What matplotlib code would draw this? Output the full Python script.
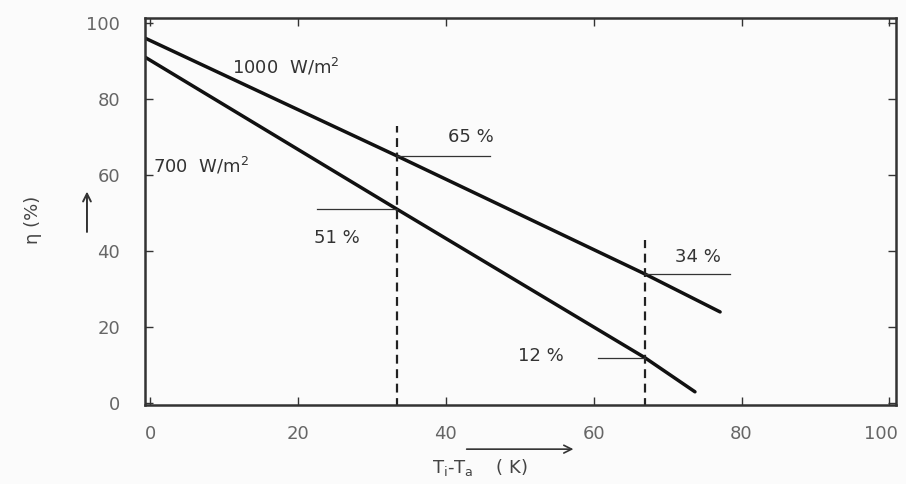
import matplotlib
matplotlib.use("Agg")
import matplotlib.pyplot as plt
from matplotlib.patches import FancyArrowPatch
from matplotlib.transforms import ScaledTranslation

# collector efficiency vs. temperature difference, two irradiance levels
dT_1000 = [-0.7, 33.4, 66.9, 77.1]
eta_1000 = [96, 65, 34, 24]
dT_700 = [-0.7, 33.4, 66.9, 73.7]
eta_700 = [91, 51, 12, 3]

x_ticks = [0, 20, 40, 60, 80, 100]
y_ticks = [0, 20, 40, 60, 80, 100]

# operating points marked on the curves
mark_dT = [33.4, 66.9]
mark_top = [73, 43]

plt.rcParams['font.family'] = ['DejaVu Sans']

fig = plt.figure(figsize=(9.06, 4.84), dpi=100, facecolor='#fbfbfb')
ax = fig.add_axes([0.160, 0.163, 0.829, 0.800])
ax.set_facecolor('#fbfbfb')

ax.plot(dT_1000, eta_1000, color='#111111', lw=2.5, solid_capstyle='round')
ax.plot(dT_700, eta_700, color='#111111', lw=2.5, solid_capstyle='round')

for x, top in zip(mark_dT, mark_top):
    ax.plot([x, x], [-1, top], color='#222222', lw=1.6, ls=(0, (4, 2.5)))

# thin leader lines from the intersections to the value labels
ax.plot([mark_dT[0], 46], [eta_1000[1], eta_1000[1]], color='#333333', lw=0.9)
ax.plot([22.6, mark_dT[0]], [eta_700[1], eta_700[1]], color='#333333', lw=0.9)
ax.plot([mark_dT[1], 78.5], [eta_1000[2], eta_1000[2]], color='#333333', lw=0.9)
ax.plot([60.6, mark_dT[1]], [eta_700[2], eta_700[2]], color='#333333', lw=0.9)

txt = dict(color='#333333', fontsize=13)
ax.text(40.3, 70, f'{eta_1000[1]} %', va='center', **txt)
ax.text(22.1, 43.5, f'{eta_700[1]} %', va='center', **txt)
ax.text(71.0, 38.5, f'{eta_1000[2]} %', va='center', **txt)
ax.text(49.8, 12.5, f'{eta_700[2]} %', va='center', **txt)
ax.text(11.1, 88.5, '1000  W/m$^2$', va='center', **txt)
ax.text(0.4, 62.5, '700  W/m$^2$', va='center', **txt)

ax.set_xlim(-0.7, 100.9)
ax.set_ylim(-0.5, 101.3)
ax.set_xticks(x_ticks)
ax.set_yticks(y_ticks)
ax.tick_params(axis='both', direction='in', length=6, width=1.0, colors='#333333',
               labelcolor='#666666', labelsize=13, top=True, right=True)
ax.tick_params(axis='y', pad=18)
ax.tick_params(axis='x', pad=14)
for s in ax.spines.values():
    s.set_color('#333333')
    s.set_linewidth(1.8)

# keep the last x label inside the figure edge
last = ax.get_xticklabels()[-1]
last.set_transform(last.get_transform() + ScaledTranslation(-6 / 72, 0, fig.dpi_scale_trans))

# axis labels with the arrows drawn beside them
fig.text(0.036, 0.545, 'η (%)', rotation=90, ha='center', va='center',
         color='#444444', fontsize=13)
fig.patches.append(FancyArrowPatch(
    (0.096, 0.515), (0.096, 0.61), transform=fig.transFigure,
    arrowstyle='->', mutation_scale=14, color='#333333', lw=1.4))
fig.text(0.530, 0.035, 'T$_\\mathregular{i}$-T$_\\mathregular{a}$    ( K)', ha='center',
         va='center', color='#444444', fontsize=13)
fig.patches.append(FancyArrowPatch(
    (0.512, 0.072), (0.636, 0.072), transform=fig.transFigure,
    arrowstyle='->', mutation_scale=14, color='#333333', lw=1.2))

fig.savefig('out.png', dpi=100, facecolor=fig.get_facecolor())
